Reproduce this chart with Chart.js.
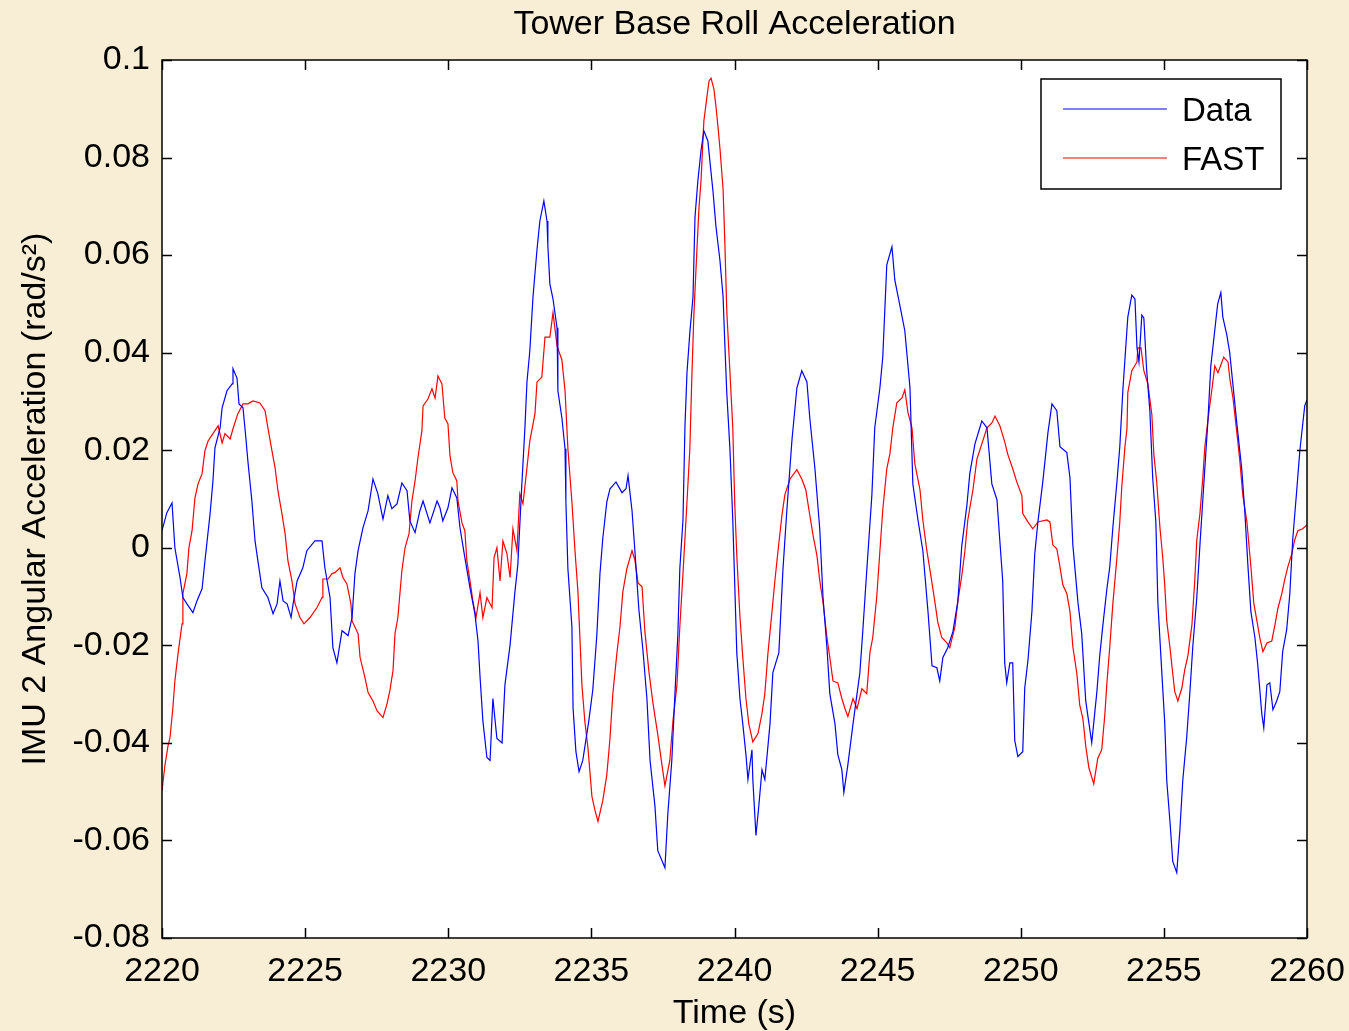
<!DOCTYPE html>
<html>
<head>
<meta charset="utf-8">
<title>Tower Base Roll Acceleration</title>
<script src="https://cdn.jsdelivr.net/npm/chart.js@4.4.1/dist/chart.umd.min.js"></script>
<style>
  html, body { margin: 0; padding: 0; background: #f8edd5; }
  #wrap { width: 1349px; height: 1031px; }
</style>
</head>
<body>
<div id="wrap"><canvas id="rollChart"></canvas></div>
<script>
const dataTime = [
  2220.00, 2220.17, 2220.35, 2220.45, 2220.63, 2220.73, 2220.87, 2221.08, 2221.22, 2221.40,
  2221.50, 2221.68, 2221.78, 2221.85, 2222.03, 2222.10, 2222.27, 2222.45, 2222.48, 2222.62,
  2222.69, 2222.83, 2222.93, 2223.00, 2223.14, 2223.25, 2223.35, 2223.49, 2223.70, 2223.88,
  2224.02, 2224.12, 2224.23, 2224.37, 2224.51, 2224.58, 2224.72, 2224.92, 2225.06, 2225.34,
  2225.59, 2225.69, 2225.87, 2225.97, 2226.11, 2226.29, 2226.50, 2226.64, 2226.74, 2226.85,
  2227.02, 2227.20, 2227.37, 2227.54, 2227.68, 2227.72, 2227.89, 2228.03, 2228.21, 2228.38,
  2228.56, 2228.66, 2228.84, 2229.01, 2229.12, 2229.36, 2229.61, 2229.71, 2229.81, 2229.99,
  2230.13, 2230.30, 2230.41, 2230.58, 2230.76, 2230.93, 2231.04, 2231.11, 2231.21, 2231.35,
  2231.46, 2231.56, 2231.70, 2231.88, 2231.98, 2232.16, 2232.33, 2232.43, 2232.57, 2232.68,
  2232.75, 2232.85, 2232.96, 2233.10, 2233.20, 2233.34, 2233.45, 2233.48, 2233.55, 2233.66,
  2233.80, 2233.83, 2233.97, 2234.08, 2234.11, 2234.18, 2234.32, 2234.36, 2234.46, 2234.57,
  2234.70, 2234.91, 2235.05, 2235.19, 2235.30, 2235.40, 2235.54, 2235.65, 2235.86, 2236.07,
  2236.21, 2236.28, 2236.42, 2236.52, 2236.66, 2236.80, 2236.94, 2237.05, 2237.22, 2237.32,
  2237.57, 2237.67, 2237.81, 2237.92, 2238.02, 2238.09, 2238.20, 2238.27, 2238.34, 2238.44,
  2238.55, 2238.62, 2238.72, 2238.83, 2238.93, 2239.07, 2239.14, 2239.25, 2239.35, 2239.49,
  2239.60, 2239.66, 2239.73, 2239.84, 2239.94, 2240.01, 2240.08, 2240.19, 2240.29, 2240.40,
  2240.47, 2240.61, 2240.64, 2240.75, 2240.85, 2240.96, 2241.06, 2241.24, 2241.34, 2241.55,
  2241.69, 2241.83, 2242.01, 2242.18, 2242.35, 2242.53, 2242.63, 2242.81, 2242.98, 2243.09,
  2243.23, 2243.33, 2243.51, 2243.61, 2243.75, 2243.82, 2243.96, 2244.14, 2244.38, 2244.48,
  2244.62, 2244.80, 2244.90, 2245.08, 2245.18, 2245.32, 2245.50, 2245.60, 2245.78, 2245.95,
  2246.13, 2246.23, 2246.41, 2246.58, 2246.76, 2246.90, 2247.07, 2247.17, 2247.28, 2247.45,
  2247.63, 2247.80, 2247.94, 2248.12, 2248.22, 2248.40, 2248.57, 2248.64, 2248.82, 2248.99,
  2249.17, 2249.27, 2249.37, 2249.44, 2249.51, 2249.62, 2249.72, 2249.79, 2249.90, 2250.07,
  2250.14, 2250.25, 2250.39, 2250.49, 2250.60, 2250.77, 2250.95, 2251.09, 2251.26, 2251.37,
  2251.61, 2251.72, 2251.82, 2252.00, 2252.13, 2252.27, 2252.38, 2252.48, 2252.66, 2252.76,
  2252.87, 2253.01, 2253.11, 2253.22, 2253.36, 2253.46, 2253.57, 2253.74, 2253.88, 2253.99,
  2254.06, 2254.13, 2254.23, 2254.30, 2254.40, 2254.51, 2254.61, 2254.72, 2254.79, 2254.93,
  2255.03, 2255.10, 2255.21, 2255.31, 2255.45, 2255.56, 2255.66, 2255.80, 2255.91, 2256.01,
  2256.15, 2256.26, 2256.40, 2256.54, 2256.64, 2256.78, 2256.88, 2256.99, 2257.06, 2257.20,
  2257.30, 2257.41, 2257.55, 2257.72, 2257.83, 2257.93, 2258.04, 2258.18, 2258.28, 2258.42,
  2258.49, 2258.60, 2258.70, 2258.81, 2258.94, 2259.05, 2259.15, 2259.29, 2259.40, 2259.50,
  2259.64, 2259.75, 2259.92, 2260.00
];
const dataAccel = [
  0.0035, 0.0072, 0.0092, 0.0000, -0.0061, -0.0102, -0.0115, -0.0133, -0.0109, -0.0084,
  -0.0027, 0.0070, 0.0137, 0.0205, 0.0246, 0.0287, 0.0322, 0.0336, 0.0367, 0.0348,
  0.0295, 0.0287, 0.0225, 0.0178, 0.0096, 0.0014, -0.0027, -0.0082, -0.0102, -0.0135,
  -0.0115, -0.0068, -0.0109, -0.0115, -0.0143, -0.0115, -0.0068, -0.0041, -0.0006, 0.0014,
  0.0014, -0.0041, -0.0102, -0.0205, -0.0236, -0.0170, -0.0180, -0.0143, -0.0053, -0.0006,
  0.0041, 0.0076, 0.0141, 0.0111, 0.0070, 0.0059, 0.0107, 0.0080, 0.0090, 0.0133,
  0.0117, 0.0055, 0.0031, 0.0076, 0.0096, 0.0051, 0.0096, 0.0082, 0.0055, 0.0082,
  0.0123, 0.0102, 0.0041, -0.0020, -0.0082, -0.0135, -0.0191, -0.0264, -0.0355, -0.0430,
  -0.0436, -0.0309, -0.0391, -0.0400, -0.0281, -0.0199, -0.0090, -0.0035, 0.0129, 0.0248,
  0.0340, 0.0404, 0.0514, 0.0611, 0.0670, 0.0711, 0.0670, 0.0619, 0.0541, 0.0510,
  0.0451, 0.0322, 0.0266, 0.0203, 0.0094, -0.0043, -0.0162, -0.0328, -0.0418, -0.0459,
  -0.0436, -0.0355, -0.0291, -0.0180, -0.0053, 0.0020, 0.0094, 0.0121, 0.0135, 0.0113,
  0.0121, 0.0148, 0.0076, -0.0006, -0.0127, -0.0209, -0.0309, -0.0436, -0.0529, -0.0621,
  -0.0656, -0.0547, -0.0436, -0.0299, -0.0180, -0.0043, 0.0057, 0.0250, 0.0359, 0.0441,
  0.0514, 0.0678, 0.0752, 0.0814, 0.0855, 0.0834, 0.0793, 0.0730, 0.0660, 0.0590,
  0.0516, 0.0422, 0.0318, 0.0203, 0.0057, -0.0078, -0.0215, -0.0309, -0.0361, -0.0424,
  -0.0475, -0.0414, -0.0475, -0.0590, -0.0529, -0.0455, -0.0475, -0.0361, -0.0256, -0.0215,
  -0.0047, 0.0078, 0.0223, 0.0328, 0.0363, 0.0340, 0.0266, 0.0162, 0.0037, -0.0100,
  -0.0205, -0.0299, -0.0361, -0.0424, -0.0455, -0.0502, -0.0445, -0.0361, -0.0256, -0.0172,
  -0.0047, 0.0109, 0.0246, 0.0328, 0.0391, 0.0580, 0.0617, 0.0549, 0.0496, 0.0445,
  0.0328, 0.0131, 0.0057, -0.0006, -0.0131, -0.0242, -0.0246, -0.0273, -0.0225, -0.0205,
  -0.0172, -0.0111, 0.0004, 0.0088, 0.0152, 0.0213, 0.0246, 0.0260, 0.0246, 0.0131,
  0.0098, 0.0014, -0.0068, -0.0236, -0.0277, -0.0236, -0.0236, -0.0395, -0.0428, -0.0418,
  -0.0287, -0.0232, -0.0131, -0.0012, 0.0053, 0.0135, 0.0236, 0.0295, 0.0281, 0.0207,
  0.0195, 0.0143, 0.0006, -0.0113, -0.0176, -0.0314, -0.0359, -0.0400, -0.0295, -0.0221,
  -0.0158, -0.0084, -0.0039, 0.0043, 0.0135, 0.0207, 0.0326, 0.0473, 0.0518, 0.0510,
  0.0410, 0.0381, 0.0477, 0.0471, 0.0363, 0.0281, 0.0143, 0.0053, -0.0113, -0.0258,
  -0.0359, -0.0477, -0.0559, -0.0643, -0.0666, -0.0578, -0.0477, -0.0387, -0.0295, -0.0203,
  -0.0102, 0.0006, 0.0135, 0.0262, 0.0373, 0.0447, 0.0500, 0.0523, 0.0473, 0.0436,
  0.0400, 0.0336, 0.0254, 0.0162, 0.0072, -0.0031, -0.0131, -0.0184, -0.0240, -0.0340,
  -0.0369, -0.0281, -0.0277, -0.0332, -0.0314, -0.0295, -0.0213, -0.0168, -0.0094, 0.0016,
  0.0117, 0.0199, 0.0291, 0.0303
];

// FAST simulation
const fastTime = [
  2220.00, 2220.10, 2220.21, 2220.28, 2220.38, 2220.45, 2220.56, 2220.70, 2220.73, 2220.87,
  2220.94, 2221.05, 2221.15, 2221.26, 2221.40, 2221.50, 2221.61, 2221.78, 2221.96, 2222.10,
  2222.20, 2222.38, 2222.48, 2222.65, 2222.83, 2223.00, 2223.18, 2223.42, 2223.60, 2223.70,
  2223.84, 2223.95, 2224.05, 2224.19, 2224.30, 2224.40, 2224.54, 2224.65, 2224.82, 2224.96,
  2225.17, 2225.41, 2225.59, 2225.62, 2225.80, 2225.94, 2226.04, 2226.22, 2226.32, 2226.46,
  2226.60, 2226.64, 2226.85, 2226.92, 2227.09, 2227.20, 2227.37, 2227.51, 2227.72, 2227.86,
  2227.96, 2228.07, 2228.14, 2228.24, 2228.38, 2228.49, 2228.63, 2228.73, 2228.84, 2228.94,
  2229.08, 2229.12, 2229.29, 2229.43, 2229.54, 2229.64, 2229.78, 2229.88, 2229.99, 2230.06,
  2230.16, 2230.30, 2230.34, 2230.48, 2230.58, 2230.65, 2230.76, 2230.86, 2230.97, 2231.11,
  2231.21, 2231.35, 2231.53, 2231.60, 2231.70, 2231.81, 2231.91, 2232.05, 2232.16, 2232.26,
  2232.40, 2232.50, 2232.61, 2232.75, 2232.85, 2233.03, 2233.10, 2233.27, 2233.38, 2233.55,
  2233.66, 2233.80, 2233.97, 2234.08, 2234.18, 2234.32, 2234.43, 2234.53, 2234.67, 2234.77,
  2234.88, 2235.02, 2235.12, 2235.23, 2235.40, 2235.54, 2235.65, 2235.75, 2235.89, 2236.00,
  2236.10, 2236.24, 2236.42, 2236.52, 2236.63, 2236.77, 2236.87, 2237.01, 2237.15, 2237.32,
  2237.47, 2237.57, 2237.74, 2237.85, 2237.99, 2238.09, 2238.20, 2238.34, 2238.44, 2238.51,
  2238.58, 2238.69, 2238.76, 2238.83, 2238.93, 2239.04, 2239.11, 2239.18, 2239.28, 2239.35,
  2239.42, 2239.49, 2239.60, 2239.66, 2239.73, 2239.84, 2239.94, 2240.01, 2240.08, 2240.19,
  2240.29, 2240.40, 2240.50, 2240.64, 2240.82, 2240.96, 2241.06, 2241.17, 2241.31, 2241.41,
  2241.52, 2241.66, 2241.76, 2241.94, 2242.18, 2242.35, 2242.49, 2242.60, 2242.74, 2242.88,
  2242.98, 2243.09, 2243.23, 2243.33, 2243.44, 2243.61, 2243.75, 2243.86, 2243.96, 2244.14,
  2244.28, 2244.45, 2244.62, 2244.73, 2244.83, 2244.97, 2245.08, 2245.18, 2245.32, 2245.43,
  2245.53, 2245.67, 2245.85, 2245.95, 2246.06, 2246.20, 2246.30, 2246.48, 2246.58, 2246.72,
  2246.86, 2247.00, 2247.10, 2247.24, 2247.42, 2247.52, 2247.70, 2247.80, 2247.94, 2248.05,
  2248.15, 2248.33, 2248.47, 2248.64, 2248.82, 2248.99, 2249.10, 2249.27, 2249.44, 2249.55,
  2249.72, 2249.86, 2250.04, 2250.07, 2250.25, 2250.42, 2250.60, 2250.91, 2251.02, 2251.12,
  2251.26, 2251.37, 2251.47, 2251.61, 2251.72, 2251.82, 2251.96, 2252.06, 2252.17, 2252.27,
  2252.38, 2252.55, 2252.69, 2252.83, 2252.94, 2253.01, 2253.11, 2253.22, 2253.36, 2253.46,
  2253.53, 2253.64, 2253.71, 2253.74, 2253.88, 2254.06, 2254.09, 2254.20, 2254.30, 2254.44,
  2254.58, 2254.65, 2254.75, 2254.86, 2254.96, 2255.03, 2255.10, 2255.21, 2255.31, 2255.38,
  2255.49, 2255.63, 2255.73, 2255.84, 2255.98, 2256.08, 2256.15, 2256.26, 2256.36, 2256.43,
  2256.54, 2256.68, 2256.78, 2256.89, 2257.03, 2257.09, 2257.24, 2257.31, 2257.41, 2257.55,
  2257.65, 2257.76, 2257.90, 2258.04, 2258.14, 2258.25, 2258.35, 2258.46, 2258.60, 2258.77,
  2258.88, 2258.98, 2259.12, 2259.22, 2259.33, 2259.47, 2259.57, 2259.68, 2259.85, 2260.00
];
const fastAccel = [
  -0.0498, -0.0447, -0.0406, -0.0389, -0.0328, -0.0273, -0.0217, -0.0156, -0.0094, -0.0053,
  0.0000, 0.0035, 0.0102, 0.0131, 0.0152, 0.0199, 0.0219, 0.0234, 0.0250, 0.0215,
  0.0234, 0.0223, 0.0244, 0.0275, 0.0295, 0.0295, 0.0301, 0.0297, 0.0281, 0.0246,
  0.0199, 0.0164, 0.0117, 0.0070, 0.0029, -0.0027, -0.0068, -0.0115, -0.0143, -0.0156,
  -0.0143, -0.0123, -0.0102, -0.0064, -0.0064, -0.0053, -0.0051, -0.0041, -0.0061, -0.0074,
  -0.0115, -0.0150, -0.0176, -0.0225, -0.0266, -0.0297, -0.0314, -0.0334, -0.0348, -0.0320,
  -0.0293, -0.0252, -0.0176, -0.0143, -0.0047, 0.0000, 0.0029, 0.0096, 0.0137, 0.0184,
  0.0240, 0.0291, 0.0305, 0.0326, 0.0307, 0.0352, 0.0336, 0.0266, 0.0254, 0.0189,
  0.0154, 0.0137, 0.0096, 0.0051, 0.0035, -0.0027, -0.0068, -0.0109, -0.0143, -0.0092,
  -0.0143, -0.0102, -0.0123, -0.0020, 0.0000, -0.0068, 0.0014, -0.0012, -0.0061, 0.0039,
  -0.0006, 0.0111, 0.0090, 0.0164, 0.0219, 0.0275, 0.0340, 0.0350, 0.0432, 0.0432,
  0.0482, 0.0414, 0.0385, 0.0322, 0.0203, 0.0094, -0.0008, -0.0090, -0.0281, -0.0355,
  -0.0410, -0.0510, -0.0537, -0.0561, -0.0518, -0.0465, -0.0391, -0.0299, -0.0217, -0.0162,
  -0.0090, -0.0043, -0.0006, -0.0025, -0.0072, -0.0080, -0.0172, -0.0254, -0.0318, -0.0383,
  -0.0447, -0.0488, -0.0436, -0.0355, -0.0281, -0.0162, -0.0053, 0.0094, 0.0203, 0.0350,
  0.0477, 0.0615, 0.0697, 0.0752, 0.0875, 0.0926, 0.0957, 0.0963, 0.0941, 0.0906,
  0.0865, 0.0820, 0.0736, 0.0631, 0.0486, 0.0361, 0.0246, 0.0088, -0.0016, -0.0141,
  -0.0225, -0.0309, -0.0361, -0.0398, -0.0381, -0.0340, -0.0299, -0.0215, -0.0131, -0.0068,
  -0.0006, 0.0068, 0.0109, 0.0141, 0.0160, 0.0141, 0.0119, 0.0078, 0.0027, -0.0016,
  -0.0068, -0.0111, -0.0184, -0.0225, -0.0273, -0.0277, -0.0309, -0.0330, -0.0346, -0.0309,
  -0.0330, -0.0289, -0.0299, -0.0215, -0.0184, -0.0100, -0.0006, 0.0078, 0.0162, 0.0193,
  0.0246, 0.0297, 0.0307, 0.0324, 0.0277, 0.0246, 0.0172, 0.0119, 0.0057, -0.0006,
  -0.0057, -0.0111, -0.0152, -0.0184, -0.0195, -0.0205, -0.0162, -0.0111, -0.0057, -0.0006,
  0.0057, 0.0119, 0.0182, 0.0213, 0.0246, 0.0256, 0.0270, 0.0250, 0.0217, 0.0191,
  0.0162, 0.0135, 0.0107, 0.0070, 0.0053, 0.0039, 0.0053, 0.0057, 0.0053, 0.0006,
  -0.0002, -0.0039, -0.0076, -0.0094, -0.0131, -0.0203, -0.0258, -0.0322, -0.0350, -0.0406,
  -0.0451, -0.0484, -0.0432, -0.0414, -0.0340, -0.0277, -0.0203, -0.0113, -0.0020, 0.0053,
  0.0125, 0.0207, 0.0244, 0.0318, 0.0363, 0.0381, 0.0410, 0.0410, 0.0363, 0.0336,
  0.0273, 0.0191, 0.0135, 0.0043, -0.0020, -0.0076, -0.0150, -0.0203, -0.0258, -0.0295,
  -0.0314, -0.0287, -0.0250, -0.0221, -0.0158, -0.0066, 0.0016, 0.0070, 0.0143, 0.0207,
  0.0262, 0.0326, 0.0373, 0.0359, 0.0381, 0.0391, 0.0381, 0.0344, 0.0309, 0.0236,
  0.0180, 0.0107, 0.0053, -0.0039, -0.0113, -0.0150, -0.0184, -0.0213, -0.0195, -0.0191,
  -0.0158, -0.0125, -0.0094, -0.0066, -0.0039, -0.0012, 0.0016, 0.0035, 0.0039, 0.0047
];

const seriesNames = ['Data', 'FAST'];
const seriesColors = ['#0000ff', '#ff0000'];
const xTicksRange = [2220, 2260, 5];      // min, max, step
const yTicksRange = [-0.08, 0.1, 0.02];
const chartTitle = 'Tower Base Roll Acceleration';

const FONT = '"Liberation Sans", Arial, Helvetica, sans-serif';
const BG = '#f8edd5';

function toPoints(xs, ys) {
    return xs.map((x, i) => ({ x: x, y: ys[i] }));
}

// MATLAB look: white axes box, inward ticks on all sides, boxed legend
const matlabFrame = {
    id: 'matlabFrame',
    beforeDraw(chart) {
        const { ctx, chartArea: a } = chart;
        ctx.save();
        ctx.fillStyle = BG;
        ctx.fillRect(0, 0, chart.width, chart.height);
        ctx.fillStyle = '#ffffff';
        ctx.fillRect(a.left, a.top, a.right - a.left, a.bottom - a.top);
        // title centred over the axes box
        ctx.fillStyle = '#000';
        ctx.font = '34px ' + FONT;
        ctx.textAlign = 'center';
        ctx.textBaseline = 'middle';
        ctx.fillText(chartTitle, (a.left + a.right) / 2, 25);
        ctx.restore();
    },
    afterDatasetsDraw(chart) {
        const { ctx, chartArea: a, scales } = chart;
        const len = 10;
        ctx.save();
        ctx.strokeStyle = '#000';
        ctx.lineWidth = 1.5;
        ctx.strokeRect(a.left, a.top, a.right - a.left, a.bottom - a.top);

        ctx.beginPath();
        scales.x.ticks.forEach(t => {
            const px = Math.round(scales.x.getPixelForValue(t.value)) + 0.5;
            ctx.moveTo(px, a.bottom); ctx.lineTo(px, a.bottom - len);
            ctx.moveTo(px, a.top); ctx.lineTo(px, a.top + len);
        });
        scales.y.ticks.forEach(t => {
            const py = Math.round(scales.y.getPixelForValue(t.value)) + 0.5;
            ctx.moveTo(a.left, py); ctx.lineTo(a.left + len, py);
            ctx.moveTo(a.right, py); ctx.lineTo(a.right - len, py);
        });
        ctx.stroke();

        // legend box in the upper right corner
        const bw = 240, bh = 110;
        const bx = a.right - 266, by = a.top + 19;
        ctx.fillStyle = '#ffffff';
        ctx.fillRect(bx, by, bw, bh);
        ctx.lineWidth = 1.5;
        ctx.strokeRect(bx, by, bw, bh);
        ctx.font = '33px ' + FONT;
        ctx.textAlign = 'left';
        ctx.textBaseline = 'middle';
        chart.data.datasets.forEach((ds, i) => {
            const y = by + 30 + i * 49;
            ctx.strokeStyle = ds.borderColor;
            ctx.lineWidth = 1.2;
            ctx.beginPath();
            ctx.moveTo(bx + 22, y);
            ctx.lineTo(bx + 126, y);
            ctx.stroke();
            ctx.fillStyle = '#000';
            ctx.fillText(ds.label, bx + 141, y + 3);
        });
        ctx.restore();
    }
};

const ctx = document.getElementById('rollChart').getContext('2d');
const rollChart = new Chart(ctx, {
    type: 'line',
    data: {
        datasets: [
            {
                label: seriesNames[0],
                data: toPoints(dataTime, dataAccel),
                borderColor: seriesColors[0],
                borderWidth: 1.2
            },
            {
                label: seriesNames[1],
                data: toPoints(fastTime, fastAccel),
                borderColor: seriesColors[1],
                borderWidth: 1.2
            }
        ]
    },
    options: {
        responsive: true,
        maintainAspectRatio: false,
        animation: false,
        elements: {
            point: { radius: 0 },
            line: { tension: 0, fill: false }
        },
        layout: { padding: { left: 0, right: 42, top: 60, bottom: 0 } },
        scales: {
            x: {
                type: 'linear',
                min: xTicksRange[0],
                max: xTicksRange[1],
                afterFit(scale) {
                    scale.height = 93;
                    scale.paddingLeft = 0;
                    scale.paddingRight = 0;
                },
                grid: { display: false, drawTicks: false },
                border: { display: false },
                ticks: {
                    stepSize: xTicksRange[2],
                    padding: 13,
                    color: '#000',
                    font: { family: FONT, size: 34 },
                    maxRotation: 0,
                    callback: v => String(v)
                },
                title: {
                    display: true,
                    text: 'Time (s)',
                    color: '#000',
                    font: { family: FONT, size: 34 },
                    padding: { top: 0, bottom: -3 }
                }
            },
            y: {
                min: yTicksRange[0],
                max: yTicksRange[1],
                afterFit(scale) {
                    scale.width = 162;
                    scale.paddingTop = 0;
                    scale.paddingBottom = 0;
                },
                grid: { display: false, drawTicks: false },
                border: { display: false },
                ticks: {
                    stepSize: yTicksRange[2],
                    padding: 12,
                    color: '#000',
                    font: { family: FONT, size: 34 },
                    callback: v => String(Number(v.toFixed(2)))
                },
                title: {
                    display: true,
                    text: 'IMU 2 Angular Acceleration (rad/s²)',
                    color: '#000',
                    font: { family: FONT, size: 34 },
                    padding: { top: 15, bottom: 0 }
                }
            }
        },
        plugins: {
            legend: { display: false },
            tooltip: { enabled: false },
            title: { display: false }
        }
    },
    plugins: [matlabFrame]
});
</script>
</body>
</html>
